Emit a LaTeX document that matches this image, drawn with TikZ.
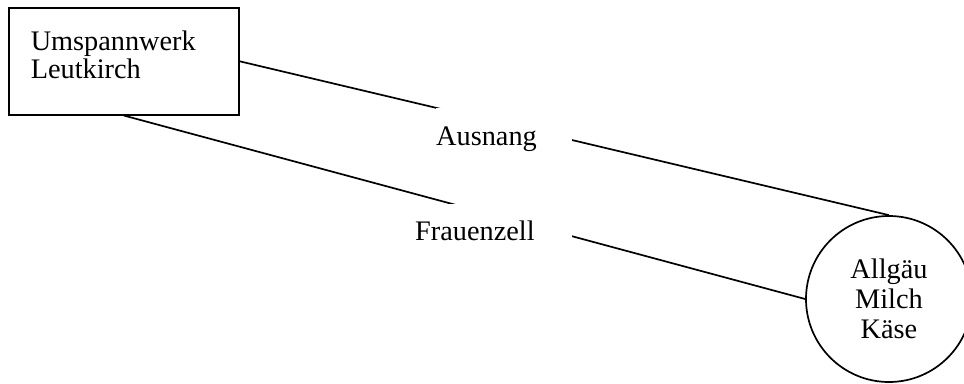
\documentclass[tikz,border=0pt]{standalone}
\usepackage{fontspec}
\setmainfont{Liberation Serif}
\begin{document}
\begin{tikzpicture}[x=1pt,y=-1pt,
  txt/.style={font=\fontsize{28.3}{28}\selectfont},
  wire/.style={line width=1.7pt},
  station/.style={txt,draw,rectangle,line width=1.5pt,anchor=north west,
    minimum width=230pt,minimum height=107pt,text width=186pt,
    inner xsep=22pt,inner ysep=0pt,align=left,text depth=40.5pt},
  consumer/.style={draw,circle,line width=1.7pt,minimum size=166pt,inner sep=0pt,
    align=center,font=\fontsize{28.3}{30}\selectfont},
  feeder/.style={txt,fill=white,anchor=base west,inner sep=0pt,align=left}]
\useasboundingbox (0,0) rectangle (964,383);

\node[station] (uw) at (8,7) {Umspannwerk\\Leutkirch};
\node[consumer] (amk) at (889,299) {Allgäu\\Milch\\Käse};

% feeder lines
\draw[wire] (uw.east) -- (amk.north);
\draw[wire] (uw.south) -- (amk.west);

% line names, set on white so they break the lines
\node[feeder,text height=37pt,text depth=25pt,text width=136pt] (aus) at (436,145) {Ausnang};
\node[feeder,text height=36pt,text depth=25pt,text width=157pt] (frz) at (415,240) {Frauenzell};
\end{tikzpicture}
\end{document}
